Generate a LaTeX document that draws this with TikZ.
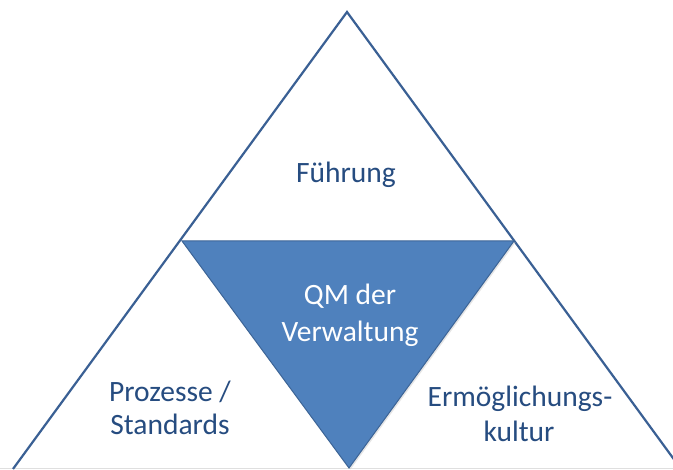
\documentclass[tikz,border=0pt]{standalone}
\usepackage{fontspec}
\setmainfont{Carlito}
\definecolor{edgeblue}{RGB}{58,96,148}
\definecolor{fillblue}{RGB}{79,129,189}
\definecolor{darkedge}{RGB}{60,100,150}
\definecolor{textblue}{RGB}{38,76,128}
\tikzset{
  lbl/.style={font=\fontsize{29.5}{36}\selectfont, text=textblue, anchor=base, inner sep=0pt},
  wlbl/.style={lbl, text=white},
}
\begin{document}
\begin{tikzpicture}[x=1pt,y=-1pt]
\useasboundingbox (0,0) rectangle (673,470);
\fill[white] (0,0) rectangle (673,470);
\begin{scope}
\clip (0,0) rectangle (673,470);
\draw[gray!25, line width=0.8pt] (0,468.5) -- (673,468.5);
\coordinate (apex) at (347,12);
\coordinate (bl) at (13,469);
\coordinate (br) at (681,469);
\draw[edgeblue, line width=2.2pt, line join=miter] (bl) -- (apex) -- (br);
\coordinate (itl) at (182,241);
\coordinate (itr) at (514,241);
\coordinate (ib) at (349,468);
\fill[gray!40, opacity=0.5] ([xshift=1.5pt,yshift=-1.5pt]itl) -- ([xshift=1.5pt,yshift=-1.5pt]itr) -- ([xshift=1.5pt,yshift=-1.5pt]ib) -- cycle;
\filldraw[fill=fillblue, draw=darkedge, line width=1pt] (itl) -- (itr) -- (ib) -- cycle;
\end{scope}
\node[lbl] (f) at (346,183) {Führung};
\node[wlbl] (q1) at (350,305) {QM der};
\node[wlbl] (q2) at (350,342) {Verwaltung};
\node[lbl] (p1) at (170,402) {Prozesse /};
\node[lbl] (p2) at (170,435) {Standards};
\node[lbl] (e1) at (520,407) {Ermöglichungs-};
\node[lbl] (e2) at (519,442) {kultur};
\end{tikzpicture}
\end{document}
